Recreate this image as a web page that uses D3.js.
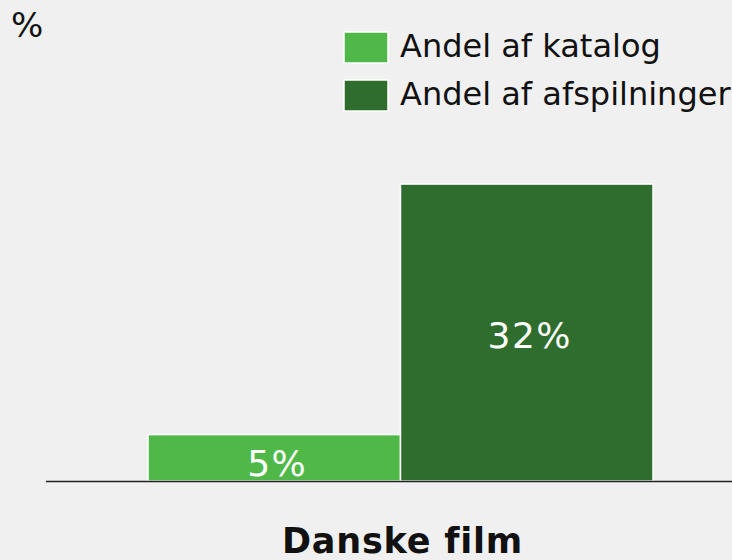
<!DOCTYPE html>
<html>
<head>
<meta charset="utf-8">
<script src="https://cdn.jsdelivr.net/npm/d3@7"></script>
<style>
  body { margin: 0; background: #f0f0f0; }
  svg { display: block; font-family: "DejaVu Sans", Verdana, sans-serif; }
</style>
</head>
<body>
<div id="chart"></div>
<script>
// data
const categories = ["Danske film"];
const seriesNames = ["Andel af katalog", "Andel af afspilninger"];
const seriesColors = ["#50b848", "#2f6d2e"];
const katalog = [5];
const afspilninger = [32];

const width = 732, height = 560;
const baseY = 481;

const svg = d3.select("#chart").append("svg")
  .attr("width", width)
  .attr("height", height);

svg.append("rect")
  .attr("width", width)
  .attr("height", height)
  .attr("fill", "#f0f0f0");

// scales
let y = d3.scaleLinear().domain([0, 35]).range([baseY, baseY - 35 * 9.28]);
let x0 = d3.scaleBand().domain(categories).range([148, 653]).padding(0);
let x1 = d3.scaleBand().domain(seriesNames).range([0, x0.bandwidth()]).padding(0);

let rows = categories.map((c, i) => ({
  category: c,
  values: [
    { series: seriesNames[0], value: katalog[i], color: seriesColors[0] },
    { series: seriesNames[1], value: afspilninger[i], color: seriesColors[1] }
  ]
}));

let groups = svg.selectAll(".group")
  .data(rows).enter().append("g")
  .attr("class", "group")
  .attr("transform", d => "translate(" + x0(d.category) + ",0)");

groups.selectAll("rect")
  .data(d => d.values).enter().append("rect")
  .attr("x", d => x1(d.series))
  .attr("y", d => y(d.value))
  .attr("width", x1.bandwidth())
  .attr("height", d => baseY - y(d.value))
  .attr("fill", d => d.color)
  .attr("stroke", "#ffffff")
  .attr("stroke-width", 1.5);

// value labels inside bars
groups.selectAll(".val")
  .data(d => d.values).enter().append("text")
  .attr("class", "val")
  .attr("x", d => x1(d.series) + x1.bandwidth() / 2)
  .attr("dx", 3)
  .attr("y", d => d.value < 10 ? baseY - 5 : (y(d.value) + baseY) / 2 + 15)
  .attr("text-anchor", "middle")
  .attr("fill", "#ffffff")
  .attr("style", "font-size: 36px; letter-spacing: 1.5px")
  .text(d => d.value + "%");

// baseline
svg.append("line")
  .attr("x1", 46)
  .attr("x2", width)
  .attr("y1", baseY + 0.5)
  .attr("y2", baseY + 0.5)
  .attr("stroke", "#222")
  .attr("stroke-width", 1.5);

// category label
svg.selectAll(".cat")
  .data(categories).enter().append("text")
  .attr("class", "cat")
  .attr("x", d => x0(d) + x0.bandwidth() / 2 + 2)
  .attr("y", 553)
  .attr("text-anchor", "middle")
  .attr("fill", "#111")
  .attr("style", "font-size: 35px; font-weight: bold; letter-spacing: 0.8px")
  .text(d => d);

// unit label
svg.append("text")
  .attr("x", 11)
  .attr("y", 37)
  .attr("fill", "#111")
  .attr("style", "font-size: 34px")
  .text("%");

// legend
let legend = svg.selectAll(".legend")
  .data(seriesNames).enter().append("g")
  .attr("class", "legend")
  .attr("transform", (d, i) => "translate(344," + (32 + i * 48) + ")");

legend.append("rect")
  .attr("width", 44)
  .attr("height", 31)
  .attr("fill", (d, i) => seriesColors[i])
  .attr("stroke", "#ffffff")
  .attr("stroke-width", 1.5);

legend.append("text")
  .attr("x", 56)
  .attr("y", 25)
  .attr("fill", "#111")
  .attr("style", "font-size: 32px")
  .text(d => d);
</script>
</body>
</html>
